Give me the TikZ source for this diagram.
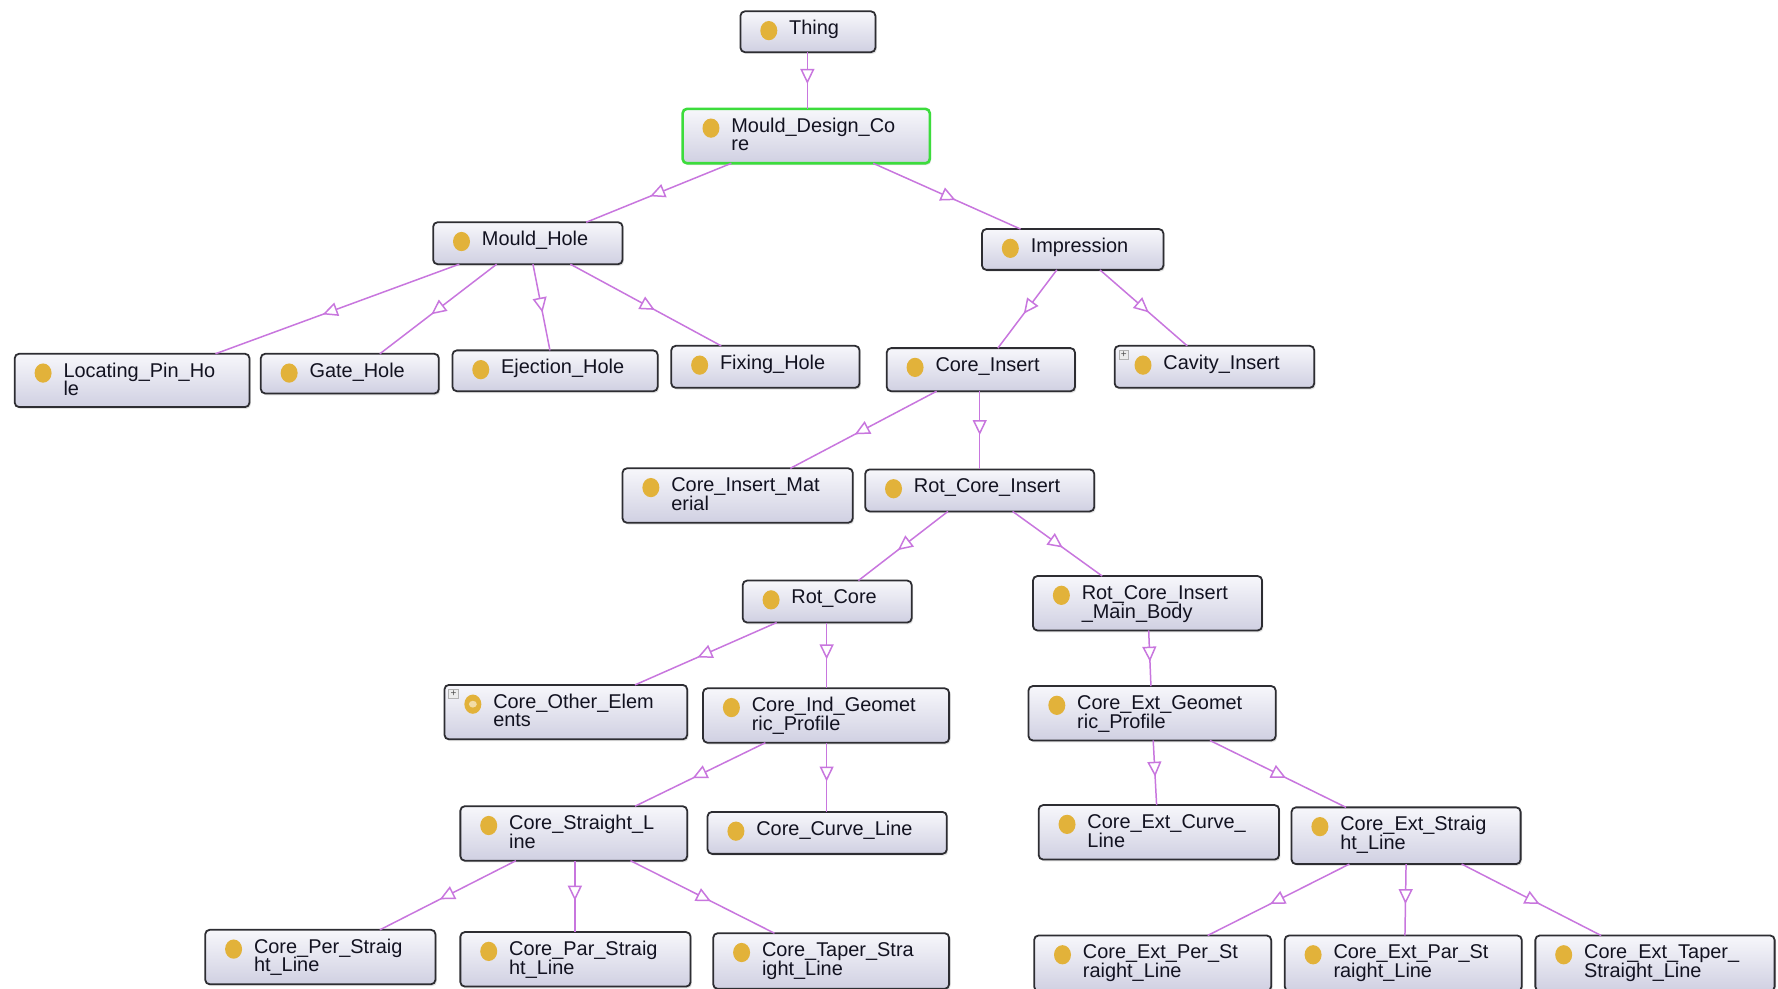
\documentclass[tikz,border=0pt]{standalone}
\usepackage{fontspec}
\setmainfont{Liberation Sans}
\usetikzlibrary{calc,arrows.meta,decorations.markings,shadows,shapes.geometric}
\definecolor{edgec}{RGB}{200,118,222}
\definecolor{dotc}{RGB}{226,178,58}
\definecolor{boxtop}{RGB}{247,247,251}
\definecolor{boxbot}{RGB}{208,208,226}
\definecolor{bord}{RGB}{45,45,50}
\definecolor{mdcgreen}{RGB}{60,220,60}
\definecolor{txtc}{RGB}{18,18,32}
\tikzset{
  cbox/.style={draw=bord, line width=0.9pt, rounded corners=2.2pt,
    top color=boxtop, bottom color=boxbot, inner sep=0pt, outer sep=0pt,
    drop shadow={opacity=0.22, shadow xshift=0.7pt, shadow yshift=-0.9pt}},
  cdot/.style={ellipse, fill=dotc, minimum width=0.30cm, minimum height=0.34cm, inner sep=0pt},
  ctext/.style={inner sep=0pt, outer sep=0pt, font=\fontsize{10}{9.4}\selectfont, text=txtc},
  plusbox/.style={draw=gray!60, fill=gray!15, minimum size=0.17cm, inner sep=0pt,
    font=\fontsize{5}{5}\selectfont, text=black!70},
  isaline/.style={draw=edgec, line width=0.75pt, postaction={decorate},
    decoration={markings, mark=at position 0.56 with
      {\arrow{Triangle[length=7.5pt,width=7pt,fill=white,line width=0.75pt]}}}},
}
% name, x1, y1, x2, y2, line1, line2
\newcommand\ocls[8][]{%
  \node[cbox, #1, minimum width={(#5-#3)*0.02cm}, minimum height={(#6-#4)*0.02cm}]
    (#2) at ({(#3+#5)/2},{(#4+#6)/2}) {};
  \node[cdot] (#2-d) at ({#3+25},{#4+17}) {};
  \node[ctext, anchor=base west] (#2-t) at ({#3+43},{#4+20.5})
    {\vtop{\hbox{#7}\hbox{#8}}};
}
\newcommand\isa[4]{\draw[isaline] ($(#1.south west)+(#2,0)$) -- ($(#3.north west)+(#4,0)$);}
\begin{document}
\begin{tikzpicture}[x=0.02cm, y=-0.02cm]
\useasboundingbox[fill=white] (0,0) rectangle (1568,872);
\clip (0,0) rectangle (1568,872);

% nodes
\ocls{thing}{653}{10}{772}{46}{Thing}{}
\ocls[draw=mdcgreen, line width=1.3pt]{mdc}{602}{96}{820}{144}{Mould\_Design\_Co}{re}
\ocls{mh}{382}{196}{549}{233}{Mould\_Hole}{}
\ocls{imp}{866}{202}{1026}{238}{Impression}{}
\ocls{lph}{13}{312}{220}{359}{Locating\_Pin\_Ho}{le}
\ocls{gh}{230}{312}{387}{347}{Gate\_Hole}{}
\ocls{eh}{399}{309}{580}{345}{Ejection\_Hole}{}
\ocls{fh}{592}{305}{758}{342}{Fixing\_Hole}{}
\ocls{ci}{782}{307}{948}{345}{Core\_Insert}{}
\ocls{cav}{983}{305}{1159}{342}{Cavity\_Insert}{}
\ocls{cim}{549}{413}{752}{461}{Core\_Insert\_Mat}{erial}
\ocls{rci}{763}{414}{965}{451}{Rot\_Core\_Insert}{}
\ocls{rc}{655}{512}{804}{549}{Rot\_Core}{}
\ocls{rcimb}{911}{508}{1113}{556}{Rot\_Core\_Insert}{\_Main\_Body}
\ocls{coe}{392}{604}{606}{652}{Core\_Other\_Elem}{ents}
\ocls{cigp}{620}{607}{837}{655}{Core\_Ind\_Geomet}{ric\_Profile}
\ocls{cegp}{907}{605}{1125}{653}{Core\_Ext\_Geomet}{ric\_Profile}
\ocls{csl}{406}{711}{606}{759}{Core\_Straight\_L}{ine}
\ocls{ccl}{624}{716}{835}{753}{Core\_Curve\_Line}{}
\ocls{cecl}{916}{710}{1128}{758}{Core\_Ext\_Curve\_}{Line}
\ocls{cesl}{1139}{712}{1341}{762}{Core\_Ext\_Straig}{ht\_Line}
\ocls{cpsl}{181}{820}{384}{868}{Core\_Per\_Straig}{ht\_Line}
\ocls{cparsl}{406}{822}{609}{870}{Core\_Par\_Straig}{ht\_Line}
\ocls{ctsl}{629}{823}{837}{872}{Core\_Taper\_Stra}{ight\_Line}
\ocls{cepsl}{912}{825}{1121}{874}{Core\_Ext\_Per\_St}{raight\_Line}
\ocls{ceparsl}{1133}{825}{1342}{874}{Core\_Ext\_Par\_St}{raight\_Line}
\ocls{cetsl}{1354}{825}{1565}{874}{Core\_Ext\_Taper\_}{Straight\_Line}

% badges
\node[plusbox] (cav-p) at (991,313) {+};
\node[plusbox] (coe-p) at (400,612) {+};
\node[ellipse, fill=dotc!45!white, minimum width=0.14cm, minimum height=0.12cm, inner sep=0pt] (coe-i) at (coe-d) {};

% connectors
\isa{thing}{59}{mdc}{110}
\isa{mdc}{43}{mh}{135}
\isa{mdc}{168}{imp}{34}
\isa{mh}{23}{lph}{177}
\isa{mh}{56}{gh}{105}
\isa{mh}{88}{eh}{86}
\isa{mh}{121}{fh}{44}
\isa{imp}{66}{ci}{98}
\isa{imp}{104}{cav}{64}
\isa{ci}{44}{cim}{148}
\isa{ci}{82}{rci}{101}
\isa{rci}{73}{rc}{102}
\isa{rci}{130}{rcimb}{61}
\isa{rc}{30}{coe}{168}
\isa{rc}{74}{cigp}{109}
\isa{rcimb}{102}{cegp}{108}
\isa{cigp}{55}{csl}{154}
\isa{cigp}{109}{ccl}{105}
\isa{cegp}{110}{cecl}{104}
\isa{cegp}{160}{cesl}{48}
\isa{csl}{49}{cpsl}{154}
\isa{csl}{101}{cparsl}{101}
\isa{csl}{150}{ctsl}{54}
\isa{cesl}{51}{cepsl}{153}
\isa{cesl}{101}{ceparsl}{106}
\isa{cesl}{150}{cetsl}{58}
\end{tikzpicture}
\end{document}
